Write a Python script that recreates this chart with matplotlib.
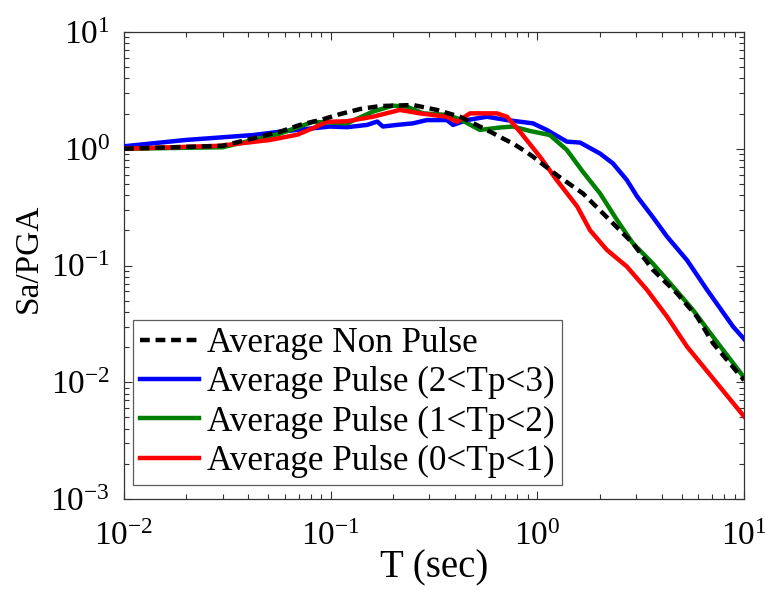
import matplotlib
matplotlib.use("Agg")
import matplotlib.pyplot as plt
from matplotlib.ticker import LogLocator, LogFormatterSciNotation, NullFormatter

# ---- data ----
T_nonpulse = [0.01, 0.03, 0.04, 0.0569, 0.071, 0.0918, 0.111, 0.139, 0.173, 0.25, 0.327, 0.422,
              0.527, 0.61, 0.697, 0.762, 0.891, 0.953, 1.24, 1.66, 2.24, 2.90, 3.62, 4.73,
              5.92, 7.08, 10.0]
Sa_nonpulse = [1.0, 1.06, 1.2, 1.40, 1.6, 1.79, 1.98, 2.19, 2.32, 2.37, 2.15, 1.88,
               1.55, 1.36, 1.20, 1.11, 0.93, 0.855, 0.596, 0.415, 0.245, 0.155, 0.092, 0.058,
               0.0365, 0.0216, 0.0104]

T_p23 = [0.01, 0.02, 0.042, 0.057, 0.0993, 0.12, 0.15, 0.168, 0.179, 0.209, 0.25, 0.292,
         0.365, 0.391, 0.456, 0.57, 0.713, 0.953, 1.11, 1.39, 1.61, 2.01, 2.32, 2.71, 3.04,
         3.62, 4.24, 5.30, 6.62, 8.85, 10.0]
Sa_p23 = [1.05, 1.19, 1.31, 1.40, 1.55, 1.53, 1.6, 1.71, 1.55, 1.6, 1.65, 1.76,
          1.76, 1.6, 1.76, 1.88, 1.76, 1.65, 1.45, 1.15, 1.13, 0.91, 0.75, 0.54, 0.39,
          0.26, 0.177, 0.111, 0.062, 0.030, 0.0235]

T_p12 = [0.01, 0.03, 0.057, 0.082, 0.12, 0.16, 0.2, 0.234, 0.28, 0.365, 0.422, 0.527,
         0.659, 0.762, 0.921, 1.15, 1.39, 1.66, 2.01, 2.43, 2.90, 3.62, 4.53, 5.66, 7.08, 10.0]
Sa_p12 = [1.0, 1.03, 1.35, 1.70, 1.65, 2.08, 2.34, 2.29, 2.01, 1.95, 1.79, 1.45,
          1.52, 1.55, 1.42, 1.31, 0.975, 0.636, 0.415, 0.245, 0.155, 0.104, 0.066, 0.0417,
          0.0245, 0.011]

T_p01 = [0.01, 0.029, 0.051, 0.069, 0.082, 0.096, 0.12, 0.16, 0.216, 0.27, 0.365, 0.409,
         0.472, 0.638, 0.713, 0.824, 1.03, 1.24, 1.56, 1.80, 2.17, 2.71, 3.39, 4.24, 5.30, 10.0]
Sa_p01 = [1.0, 1.06, 1.19, 1.32, 1.5, 1.7, 1.72, 1.88, 2.15, 2.01, 1.88, 1.70,
          2.01, 2.01, 1.88, 1.40, 0.855, 0.54, 0.32, 0.20, 0.136, 0.098, 0.062, 0.0365,
          0.0202, 0.0051]

labels = ["Average Non Pulse", "Average Pulse (2<Tp<3)",
          "Average Pulse (1<Tp<2)", "Average Pulse (0<Tp<1)"]
x_label = "T (sec)"
y_label = "Sa/PGA"

# ---- style ----
plt.rcParams["font.family"] = ["Liberation Serif", "DejaVu Serif"]
plt.rcParams["mathtext.fontset"] = "custom"
plt.rcParams["mathtext.rm"] = "Liberation Serif"
plt.rcParams["mathtext.it"] = "Liberation Serif:italic"

fig = plt.figure(figsize=(7.65, 5.9), dpi=100)
ax = fig.add_axes([124/765, 1-499/590, (744-124)/765, (499-32)/590])

lw = 3.2
ax.plot(T_nonpulse, Sa_nonpulse, color="black", ls=(0, (2.2, 1.3)), lw=lw, label=labels[0], zorder=5)
ax.plot(T_p23, Sa_p23, color="#0000ff", lw=lw, label=labels[1], zorder=3)
ax.plot(T_p12, Sa_p12, color="#008000", lw=lw, label=labels[2], zorder=4)
ax.plot(T_p01, Sa_p01, color="#ff0000", lw=lw, label=labels[3], zorder=4)

ax.set_xscale("log")
ax.set_yscale("log")
ax.set_xlim(1e-2, 1e1)
ax.set_ylim(1e-3, 1e1)

ax.xaxis.set_major_locator(LogLocator(base=10, numticks=10))
ax.yaxis.set_major_locator(LogLocator(base=10, numticks=10))
ax.xaxis.set_minor_locator(LogLocator(base=10, subs=range(2, 10), numticks=20))
ax.yaxis.set_minor_locator(LogLocator(base=10, subs=range(2, 10), numticks=20))
ax.xaxis.set_major_formatter(LogFormatterSciNotation())
ax.yaxis.set_major_formatter(LogFormatterSciNotation())
ax.xaxis.set_minor_formatter(NullFormatter())
ax.yaxis.set_minor_formatter(NullFormatter())

ax.tick_params(which="both", direction="in", top=True, right=True, colors="#333333",
               labelcolor="black")
ax.tick_params(which="major", length=6, width=0.8, labelsize=24)
ax.tick_params(axis="x", which="major", pad=16)
ax.tick_params(axis="y", which="major", pad=10)
ax.tick_params(which="minor", length=3.5, width=0.8)
for s in ax.spines.values():
    s.set_color("#333333")
    s.set_linewidth(0.9)

ax.set_xlabel(x_label, fontsize=28, labelpad=-2)
ax.set_ylabel(y_label, fontsize=24)
ax.yaxis.set_label_coords(-0.129, 0.515)

leg = ax.legend(loc="lower left", bbox_to_anchor=(0.0145, 0.03), borderaxespad=0,
                fontsize=25.3, frameon=True, fancybox=False, handlelength=1.68,
                handletextpad=0.23, labelspacing=0.18, borderpad=0.2)
leg.get_frame().set_edgecolor("#333333")
leg.get_frame().set_linewidth(0.9)

fig.savefig("out.png", dpi=100)
